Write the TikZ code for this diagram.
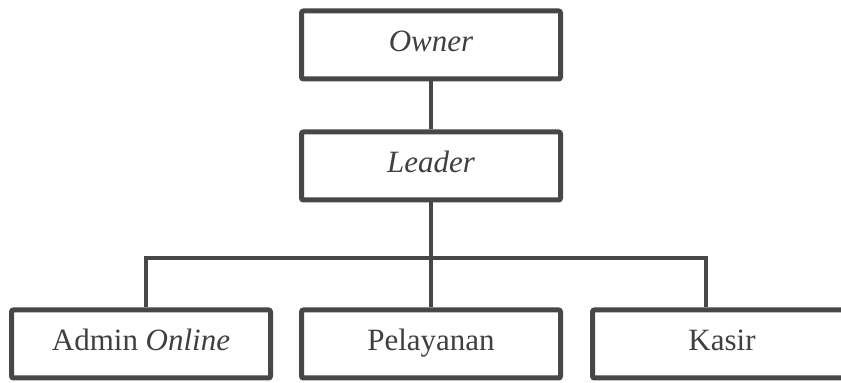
\documentclass[tikz,border=0pt]{standalone}
\usepackage{fontspec}
\setmainfont{Liberation Serif}
\usetikzlibrary{positioning}
\definecolor{linegray}{HTML}{474747}
\definecolor{textgray}{HTML}{404040}

\begin{document}
\begin{tikzpicture}[
  x=0.5pt, y=-0.5pt,
  orgnode/.style={draw=linegray, line width=2.5pt, rectangle, rounded corners=1pt, fill=white, minimum width=129.5pt, minimum height=34pt, inner sep=2pt, text height=10.5pt, text depth=3.5pt, font=\fontsize{15.5}{18}\selectfont, text=textgray, align=center},
  link/.style={draw=linegray, line width=2pt}
]
\useasboundingbox (0,0) rectangle (841,383);

\node[orgnode] (Owner) at (431,45) {\textit{Owner}};
\node[orgnode] (Leader) [below=24pt of Owner] {\textit{Leader}};

\node[orgnode] (Pelayanan) [below=52.5pt of Leader] {Pelayanan};
\node[orgnode] (Admin) [left=13pt of Pelayanan] {Admin \textit{Online}};
\node[orgnode] (Kasir) [right=13.5pt of Pelayanan] {Kasir};

\coordinate (busL) at (146,258);
\coordinate (busR) at (706,258);

\draw[link] (Owner) -- (Leader);
\draw[link] (Leader.south) -- (Pelayanan.north);
\draw[link] (busL |- Admin.north) -- (busL) -- (busR) -- (busR |- Kasir.north);
\end{tikzpicture}
\end{document}
